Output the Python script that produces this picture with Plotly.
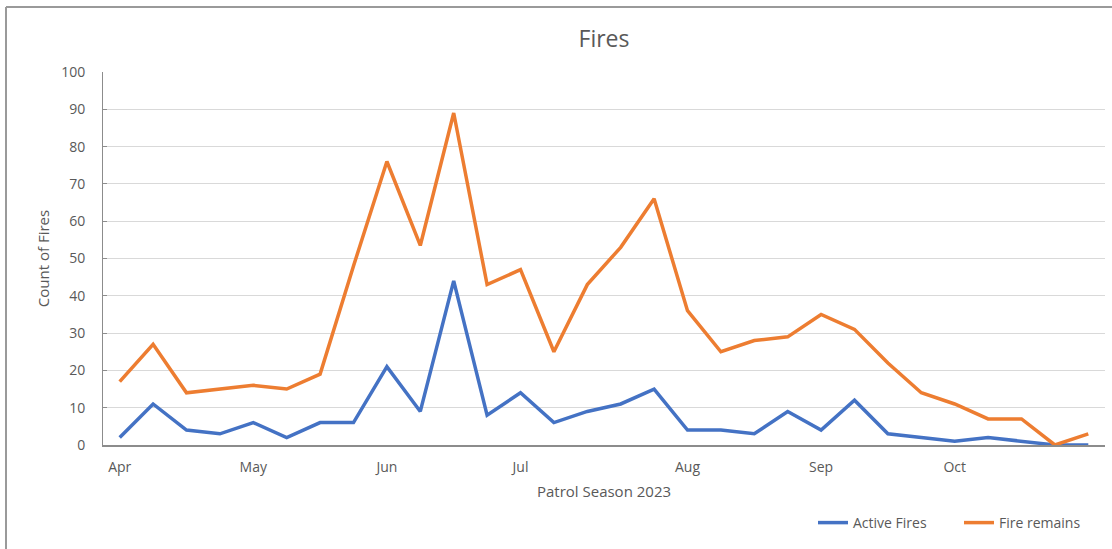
import plotly.graph_objects as go

weeks = list(range(30))
month_ticks = [0, 4, 8, 12, 17, 21, 25]
month_labels = ["Apr", "May", "Jun", "Jul", "Aug", "Sep", "Oct"]
active_fires = [2, 11, 4, 3, 6, 2, 6, 6, 21, 9, 44, 8, 14, 6, 9, 11, 15, 4, 4, 3,
                9, 4, 12, 3, 2, 1, 2, 1, 0, 0]
fire_remains = [17, 27, 14, 15, 16, 15, 19, 48, 76, 53.5, 89, 43, 47, 25, 43, 53, 66, 36, 25, 28,
                29, 35, 31, 22, 14, 11, 7, 7, 0, 3]

W, H = 1112, 549
L, R, T, B = 103, 1105, 72, 445

FONT = "Open Sans, Segoe UI, sans-serif"
GRAY = "#595959"

fig = go.Figure()
fig.add_trace(go.Scatter(x=weeks, y=active_fires, mode="lines", name="Active Fires",
                         line=dict(color="#4472C4", width=3.5)))
fig.add_trace(go.Scatter(x=weeks, y=fire_remains, mode="lines", name="Fire remains",
                         line=dict(color="#ED7D31", width=3.5)))

def px_x(p):
    return (p - L) / (R - L)

def px_y(p):
    return (B - p) / (B - T)

fig.update_layout(
    width=W, height=H,
    margin=dict(l=L, r=W - R, t=T, b=H - B),
    paper_bgcolor="white", plot_bgcolor="white",
    font=dict(family=FONT, color=GRAY, size=14),
    title=dict(text="Fires", x=0.5, xref="paper", y=1 - 39 / H, yanchor="middle",
               font=dict(size=23, color=GRAY)),
    xaxis=dict(range=[-0.5, 29.5], tickvals=month_ticks, ticktext=month_labels,
               showgrid=False, zeroline=False, showline=True, linecolor="#8c8c8c", linewidth=1.5,
               ticks="", ticklabelstandoff=8, tickfont=dict(size=14, color=GRAY),
               title=dict(text="Patrol Season 2023", font=dict(size=15, color=GRAY), standoff=12)),
    yaxis=dict(range=[0, 100], dtick=10, showgrid=True, gridcolor="#d9d9d9", gridwidth=1,
               zeroline=False, showline=True, linecolor="#8c8c8c", linewidth=1,
               ticks="inside", ticklen=4, tickcolor="#8c8c8c",
               ticklabelstandoff=14, tickfont=dict(size=14, color=GRAY),
               title=dict(text="Count of Fires", font=dict(size=15, color=GRAY), standoff=7)),
    legend=dict(orientation="h", x=1.0, xanchor="right", y=px_y(523), yanchor="middle",
                font=dict(size=14, color=GRAY), bgcolor="rgba(0,0,0,0)", entrywidth=101,
                entrywidthmode="pixels"),
    showlegend=True,
)

# outer frame (left and top edges)
fig.add_shape(type="line", xref="paper", yref="paper",
              x0=px_x(6), x1=px_x(6), y0=px_y(7), y1=px_y(560),
              line=dict(color="#9a9a9a", width=2))
fig.add_shape(type="line", xref="paper", yref="paper",
              x0=px_x(6), x1=px_x(1120), y0=px_y(7), y1=px_y(7),
              line=dict(color="#9a9a9a", width=2))

fig.write_html("out.html")
